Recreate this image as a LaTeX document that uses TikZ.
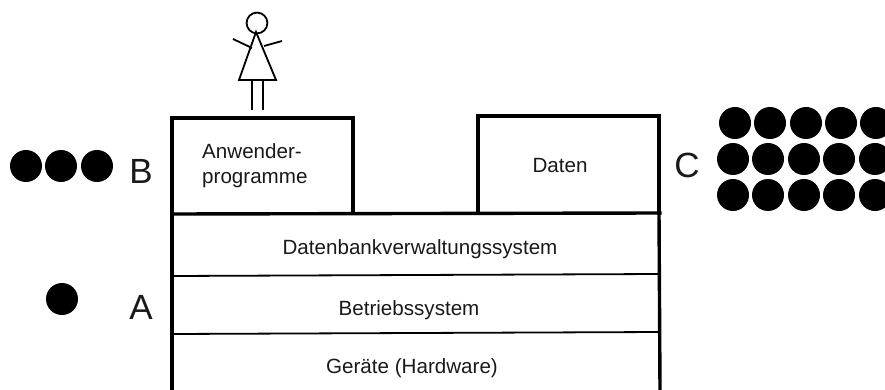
\documentclass[tikz,border=0pt]{standalone}
\usepackage{fontspec}
\setmainfont{Liberation Sans}
\tikzset{
  heavy/.style={line width=3.4pt,line cap=rect,line join=miter},
  thinrule/.style={line width=1.8pt},
  figure/.style={line width=1.8pt,line join=miter},
  dot/.style={circle,fill=black,draw=none,minimum size=32pt,inner sep=0pt},
  small/.style={font=\fontsize{20.6}{24}\selectfont,inner sep=0pt,text=black!90},
  big/.style={font=\fontsize{35}{40}\selectfont,inner sep=0pt,text=black!90}
}
\begin{document}
\begin{tikzpicture}[x=1pt,y=-1pt]
\useasboundingbox (0,0) rectangle (885,390);
% stack
\draw[heavy] (172,390) -- (172,118) -- (353,118) -- (353,213);
\draw[heavy] (478,213) -- (478,116) -- (659,116) -- (659,213);
\draw[heavy] (659,213) -- (660,390);
\draw[heavy] (172,214) -- (660,213);
\draw[thinrule] (172,276) -- (660,274);
\draw[thinrule] (172,334) -- (660,332);
% labels
\node[small,anchor=base west] (anw) at (202,159) {Anwender-};
\node[small,anchor=base west] (prog) at (202,183) {programme};
\node[small,anchor=base] (daten) at (560,172) {Daten};
\node[small,anchor=base] (dbms) at (420,254) {Datenbankverwaltungssystem};
\node[small,anchor=base] (os) at (409,315) {Betriebssystem};
\node[small,anchor=base] (hw) at (412,373) {Geräte (Hardware)};
\node[big,anchor=base] (lb) at (141,183) {B};
\node[big,anchor=base] (la) at (141,319) {A};
\node[big,anchor=base] (lc) at (687,177) {C};
% dots
\foreach \x/\n in {26/1,61/2,97/3} \node[dot] (b\n) at (\x,166) {};
\node[dot,minimum width=31pt] (a1) at (62,299) {};
\foreach \x/\n in {735/1,770/2,806/3,841/4,876/5} \node[dot] (ca\n) at (\x,123) {};
\foreach \x/\n in {733/1,768/2,804/3,839/4,875/5} {
  \node[dot] (cb\n) at (\x,159) {};
  \node[dot] (cc\n) at (\x,195) {};
}
% person
\draw[figure] (257,23) circle (10.4);
\draw[figure] (256,32) -- (239,80) -- (276,80) -- cycle;
\draw[figure] (252,80) -- (252,110);
\draw[figure] (263,80) -- (263,110);
\draw[figure] (233,39) -- (252,48);
\draw[figure] (264,46) -- (282,41);
\end{tikzpicture}
\end{document}
